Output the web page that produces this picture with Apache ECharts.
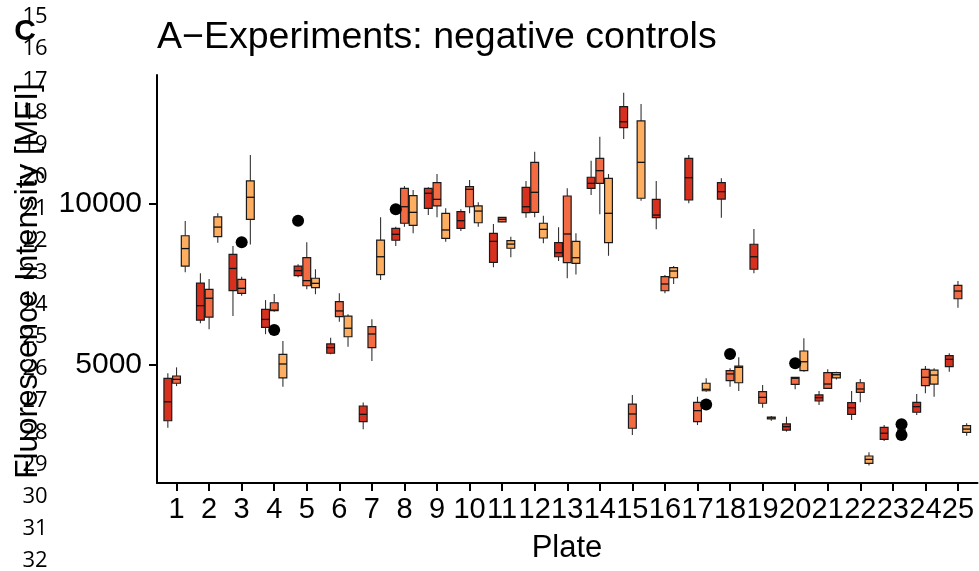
<!DOCTYPE html>
<html>
<head>
<meta charset="utf-8">
<script src="https://cdn.jsdelivr.net/npm/echarts@6/dist/echarts.min.js"></script>
<style>
html,body{margin:0;padding:0;background:#fff;}
#chart{width:979px;height:571px;}
</style>
</head>
<body>
<div id="chart"></div>
<script>
// ---- data ----
const plates = ['1','2','3','4','5','6','7','8','9','10','11','12','13','14','15','16','17','18','19','20','21','22','23','24','25'];
const groupColors = ['#d7301f', '#f26b43', '#fdae61'];
// [lower whisker, Q1, median, Q3, upper whisker] per plate
const redStats = [
  [3020, 3240, 3830, 4560, 4720],
  [6280, 6380, 6830, 7530, 7840],
  [6510, 7300, 7990, 8430, 8690],
  [5940, 6150, 6400, 6715, 7005],
  [7715, 7765, 7920, 8065, 8120],
  [5310, 5345, 5520, 5635, 5830],
  [2975, 3210, 3440, 3700, 3805],
  [8690, 8870, 9055, 9240, 9290],
  [9655, 9865, 10335, 10490, 10520],
  [9160, 9240, 9480, 9760, 9835],
  [8025, 8180, 8835, 9085, 9375],
  [9575, 9730, 9915, 10520, 10715],
  [8220, 8355, 8480, 8795, 9275],
  [10280, 10490, 10645, 10835, 11350],
  [12025, 12380, 12565, 13035, 13470],
  [9210, 9575, 9655, 10145, 10715],
  [10020, 10125, 10820, 11425, 11530],
  [9575, 10155, 10385, 10665, 10800],
  [7840, 7965, 8355, 8745, 9220],
  [2900, 2950, 3055, 3140, 3365],
  [3730, 3855, 3960, 4045, 4165],
  [3265, 3440, 3645, 3805, 4165],
  [2610, 2660, 2850, 3035, 3105],
  [3420, 3505, 3680, 3815, 4075],
  [4770, 4925, 5155, 5270, 5345]
];
const orangeStats = [
  [4320, 4410, 4530, 4635, 4905],
  [6090, 6470, 7060, 7340, 7660],
  [7140, 7215, 7370, 7650, 7730],
  [6640, 6670, 6690, 6920, 7190],
  [7340, 7450, 7610, 8325, 8805],
  [6330, 6485, 6665, 6955, 7215],
  [5105, 5520, 5945, 6175, 6405],
  [9290, 9400, 9915, 10490, 10560],
  [9585, 9940, 10145, 10665, 10935],
  [9710, 9915, 10460, 10540, 10750],
  [9430, 9440, 9525, 9585, 9595],
  [9585, 9740, 10365, 11300, 11630],
  [7685, 8170, 9065, 10250, 10490],
  [9680, 10645, 11040, 11425, 12100],
  [2795, 3005, 3450, 3760, 4045],
  [7215, 7295, 7505, 7735, 7785],
  [3105, 3210, 3555, 3815, 3990],
  [4300, 4490, 4700, 4800, 4875],
  [3645, 3785, 3970, 4145, 4355],
  [4220, 4375, 4565, 4595, 4600],
  [4240, 4252, 4385, 4740, 4845],
  [3815, 4125, 4230, 4425, 4540],
  null,
  [4095, 4335, 4595, 4845, 4945],
  [6765, 7045, 7285, 7465, 7600]
];
const lightStats = [
  [7870, 8060, 8610, 9010, 9470],
  [8790, 8980, 9280, 9600, 9710],
  [8740, 9520, 10210, 10720, 11530],
  [4300, 4580, 5010, 5310, 5730],
  [7185, 7390, 7525, 7685, 7965],
  [5550, 5860, 6125, 6505, 6560],
  [7630, 7795, 8355, 8875, 9585],
  [9085, 9335, 9740, 10260, 10435],
  [8825, 8930, 9190, 9710, 9865],
  [9290, 9415, 9780, 9940, 10055],
  [8340, 8620, 8750, 8855, 8980],
  [8775, 8940, 9210, 9400, 9635],
  [7805, 8150, 8325, 8835, 9085],
  [8385, 8795, 9710, 10800, 10935],
  [10105, 10180, 11300, 12590, 13120],
  [7505, 7700, 7910, 8015, 8065],
  [4145, 4175, 4220, 4410, 4565],
  [4165, 4425, 4905, 4945, 5220],
  [3240, 3295, 3325, 3355, 3390],
  [4770, 4800, 5080, 5415, 5810],
  [4530, 4580, 4675, 4740, 4770],
  [1840, 1910, 2035, 2140, 2255],
  [2950, 2950, 2950, 2950, 2950],
  [3990, 4385, 4665, 4820, 4875],
  [2775, 2880, 2980, 3085, 3160]
];
// outliers: [plate number, group index, value]
const outliers = [
  [3, 1, 8805], [4, 1, 6070], [5, 0, 9480], [8, 0, 9835],
  [17, 2, 3750], [18, 1, 5320], [20, 1, 5030], [23, 2, 3130], [23, 2, 2795]
];
const yTicks = [5000, 10000];
const lineNumbers = ['15','16','17','18','19','20','21','22','23','24','25','26','27','28','29','30','31','32'];
const titleText = 'A\u2212Experiments: negative controls';
const yTitle = 'Fluorescence Intensity [MFI]';
const xTitle = 'Plate';
const panelLabel = 'C';

// ---- build ----
const DODGE = 0.267, BOX_W = 0.24;
const groupStats = [redStats, orangeStats, lightStats];
const boxData = [];
groupStats.forEach((arr, g) => {
  arr.forEach((s, i) => {
    if (s) boxData.push([i + 1 + (g - 1) * DODGE].concat(s, [g]));
  });
});
const outlierData = outliers.map(o => [o[0] + (o[1] - 1) * DODGE, o[2]]);

function renderBox(params, api) {
  const x = api.value(0);
  const c = (v) => api.coord([x, v]);
  const pLow = c(api.value(1)), pQ1 = c(api.value(2)), pMed = c(api.value(3)),
        pQ3 = c(api.value(4)), pHigh = c(api.value(5));
  const g = api.value(6);
  const hw = api.size([BOX_W, 0])[0] / 2;
  const px = pMed[0];
  return {
    type: 'group',
    children: [
      { type: 'line', shape: { x1: px, y1: pHigh[1], x2: px, y2: pQ3[1] }, style: { stroke: '#333', lineWidth: 1.1 } },
      { type: 'line', shape: { x1: px, y1: pQ1[1], x2: px, y2: pLow[1] }, style: { stroke: '#333', lineWidth: 1.1 } },
      { type: 'rect', shape: { x: px - hw, y: pQ3[1], width: 2 * hw, height: Math.max(pQ1[1] - pQ3[1], 0.01) },
        style: { fill: groupColors[g], stroke: '#1a1a1a', lineWidth: 1.2 } },
      { type: 'line', shape: { x1: px - hw, y1: pMed[1], x2: px + hw, y2: pMed[1] }, style: { stroke: '#111', lineWidth: 1.3 } }
    ]
  };
}

const FONT = 'Liberation Sans';
const graphics = [
  { type: 'text', x: 157, y: 38, style: { text: titleText, fontSize: 37.5, fontFamily: FONT, fill: '#000', align: 'left', verticalAlign: 'middle' } },
  { type: 'text', x: 28, y: 281, rotation: Math.PI / 2,
    style: { text: yTitle, fontSize: 31.5, fontFamily: FONT, fill: '#000', align: 'center', verticalAlign: 'middle' } },
  { type: 'text', x: 567, y: 548, style: { text: xTitle, fontSize: 31, fontFamily: FONT, fill: '#000', align: 'center', verticalAlign: 'middle' } },
  { type: 'text', x: 25, y: 32, style: { text: panelLabel, fontSize: 30, fontWeight: 'bold', fontFamily: FONT, fill: '#000', align: 'center', verticalAlign: 'middle' } }
];
lineNumbers.forEach((t, i) => {
  graphics.push({ type: 'text', x: 35, y: 16.5 + i * 32.03,
    style: { text: t, fontSize: 22, fontFamily: 'Open Sans', fill: '#000', align: 'center', verticalAlign: 'middle' } });
});

const chart = echarts.init(document.getElementById('chart'), null, { renderer: 'canvas' });
chart.setOption({
  animation: false,
  backgroundColor: '#fff',
  grid: { left: 157, right: 1.5, top: 75, bottom: 88, containLabel: false },
  xAxis: {
    type: 'value', min: 0.4, max: 25.6,
    splitLine: { show: false },
    axisLine: { show: true, onZero: false, lineStyle: { color: '#000', width: 2 } },
    axisTick: { show: true, customValues: plates.map((p, i) => i + 1), length: 8, lineStyle: { color: '#000', width: 2 } },
    axisLabel: { show: true, interval: 0, customValues: plates.map((p, i) => i + 1), formatter: v => plates[Math.round(v) - 1],
      fontSize: 29, fontFamily: FONT, color: '#000', margin: 12, hideOverlap: false, showMaxLabel: true, showMinLabel: true }
  },
  yAxis: {
    type: 'value', min: 1298, max: 14024,
    splitLine: { show: false },
    axisLine: { show: true, onZero: false, lineStyle: { color: '#000', width: 2 } },
    axisTick: { show: true, customValues: yTicks, length: 8, lineStyle: { color: '#000', width: 2 } },
    axisLabel: { show: true, customValues: yTicks, formatter: v => String(v), fontSize: 30, fontFamily: FONT, color: '#000', margin: 15 }
  },
  series: [
    { type: 'custom', renderItem: renderBox, data: boxData, encode: { x: 0, y: [1, 2, 3, 4, 5] }, clip: false },
    { type: 'scatter', data: outlierData, symbol: 'circle', symbolSize: 12, itemStyle: { color: '#000', opacity: 1 }, z: 5 }
  ],
  graphic: graphics
});
</script>
</body>
</html>
